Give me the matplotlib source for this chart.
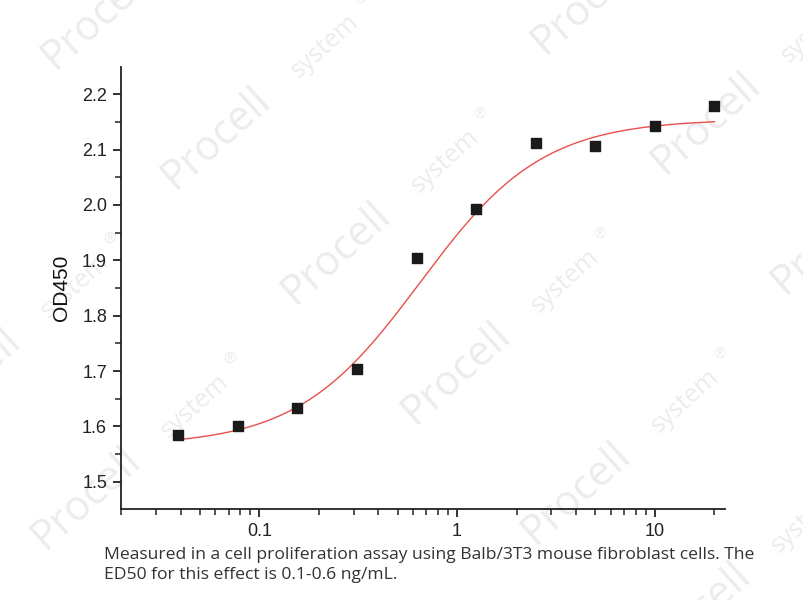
import numpy as np
import matplotlib
matplotlib.use('Agg')
import matplotlib.pyplot as plt
from matplotlib.ticker import LogLocator, MultipleLocator, FixedLocator, NullFormatter

# dados (ng/mL vs OD450)
conc = [0.039, 0.078, 0.156, 0.3125, 0.625, 1.25, 2.5, 5, 10, 20]
od450 = [1.585, 1.601, 1.634, 1.704, 1.905, 1.992, 2.111, 2.106, 2.142, 2.178]

# parâmetros da curva logística (4PL) ajustada
fit_bottom = 1.565
fit_top = 2.155
fit_ec50 = 0.65
fit_hill = 1.4

caption = ('Measured in a cell proliferation assay using Balb/3T3 mouse fibroblast cells. The\n'
           'ED50 for this effect is 0.1-0.6 ng/mL.')

plt.rcParams['font.family'] = ['Liberation Sans', 'DejaVu Sans']

W, H = 804, 600
fig = plt.figure(figsize=(W / 100, H / 100), dpi=100)

# marcas d'água (posição do "P" em pixels, a partir do topo)
wm_anchor = [(55, 70), (175, 190), (295, 305), (415, 425), (535, 545),
             (545, 55), (665, 175), (785, 295),
             (-75, 430), (45, 550), (655, 665)]
ang = 42
ca, sa = np.cos(np.radians(ang)), np.sin(np.radians(ang))
wm_font = ['Open Sans', 'DejaVu Sans']
wm_color = '#ececec'
for px, py in wm_anchor:
    fig.text(px / W, 1 - py / H, 'Procell', fontsize=30, color=wm_color, rotation=ang,
             rotation_mode='anchor', family=wm_font, ha='left', va='baseline', zorder=-1)
    sx, sy = px + 166 * ca, py - 166 * sa
    fig.text(sx / W, 1 - sy / H, 'system', fontsize=18, color=wm_color, rotation=ang,
             rotation_mode='anchor', family=wm_font, ha='left', va='baseline', zorder=-1)
    rx, ry = px + 265 * ca - 18 * sa, py - 265 * sa - 18 * ca
    fig.text(rx / W, 1 - ry / H, '®', fontsize=11, color=wm_color,
             family=wm_font, ha='center', va='center', zorder=-1)

ax = fig.add_axes([0.1505, 0.1517, 0.7512, 0.7366])
ax.patch.set_alpha(0)

xs = np.logspace(np.log10(conc[0]), np.log10(conc[-1]), 300)
ys = fit_top - (fit_top - fit_bottom) / (1 + (xs / fit_ec50) ** fit_hill)
ax.plot(xs, ys, color='#e8504c', lw=1.0)
ax.scatter(conc, od450, marker='s', s=55, color='#1a1a1a', zorder=3)

ax.set_xscale('log')
ax.set_xlim(0.02, 22.6)
ax.set_ylim(1.451, 2.249)

ax.xaxis.set_major_locator(FixedLocator([0.1, 1, 10]))
ax.xaxis.set_major_formatter(matplotlib.ticker.FixedFormatter(['0.1', '1', '10']))
ax.xaxis.set_minor_locator(LogLocator(base=10, subs=np.arange(2, 10)))
ax.xaxis.set_minor_formatter(NullFormatter())
ax.yaxis.set_major_locator(FixedLocator([1.5, 1.6, 1.7, 1.8, 1.9, 2.0, 2.1, 2.2]))
ax.yaxis.set_major_formatter(matplotlib.ticker.FormatStrFormatter('%.1f'))
ax.yaxis.set_minor_locator(MultipleLocator(0.05))

for s in ['top', 'right']:
    ax.spines[s].set_visible(False)
for s in ['left', 'bottom']:
    ax.spines[s].set_linewidth(1.3)
    ax.spines[s].set_color('#222222')

ax.tick_params(which='major', direction='out', length=6, width=1.3, colors='#222222',
               labelsize=13, pad=4)
ax.tick_params(which='minor', direction='out', length=4, width=1.1, colors='#222222')

ax.set_ylabel('OD450', fontsize=15, color='#111111', labelpad=8)

fig.text(0.129, 0.058, caption, fontsize=12.6, color='#333333', linespacing=1.3,
         family=['Open Sans', 'DejaVu Sans'], ha='left', va='center')

fig.savefig('out.png', dpi=100)
